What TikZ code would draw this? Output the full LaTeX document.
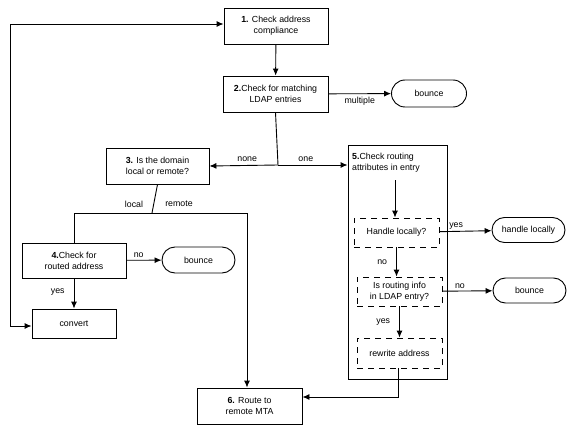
\documentclass[tikz,border=0pt]{standalone}
\usepackage{fontspec}
\setmainfont{Liberation Sans}
\usetikzlibrary{arrows.meta,shapes.misc}
\begin{document}
\begin{tikzpicture}[x=1pt,y=-1pt,
  every node/.style={font=\fontsize{8.8}{11}\selectfont, inner sep=1pt},
  box/.style={draw, line width=0.9pt, align=center, minimum width=#1, minimum height=36pt},
  dbox/.style={draw, line width=0.9pt, dash pattern=on 6pt off 5pt, align=center, minimum width=85pt, minimum height=29pt},
  term/.style={draw, line width=0.9pt, rounded rectangle, minimum width=75pt, minimum height=25pt},
  lbl/.style={font=\fontsize{8.8}{11}\selectfont},
  tip/.tip={Latex[length=7pt,width=6pt]},
  arr/.style={line width=0.9pt, -tip},
  ln/.style={line width=0.9pt}]
\useasboundingbox (0,0) rectangle (573,433);
\node[box=104pt] (b1) at (276,26) {\textbf{1.} Check address\\compliance};
\node[box=105pt] (b2) at (275.5,94) {\textbf{2.}Check for matching\\LDAP entries};
\node[term, minimum width=77pt, minimum height=27pt] (bo1) at (429,93.5) {bounce};
\node[box=103pt] (b3) at (157.5,166) {\textbf{3.} Is the domain\\local or remote?};
\node[draw, line width=0.9pt, minimum width=99pt, minimum height=234pt] (b5) at (397.5,262) {};
\node[anchor=west, align=left] (b5t) at (351,163) {\textbf{5.}Check routing\\attributes in entry};
\node[dbox] (hl) at (396.5,232.5) {Handle locally?};
\node[term] (hlt) at (528.5,230) {handle locally};
\node[dbox] (isr) at (399.5,291.5) {Is routing info\\in LDAP entry?};
\node[term] (bo3) at (529.5,290.5) {bounce};
\node[dbox, minimum height=30pt] (rw) at (399.5,353) {rewrite address};
\node[box=105pt] (b6) at (249.5,406) {\textbf{6.} Route to\\remote MTA};
\node[box=104pt, minimum height=35pt] (b4) at (74,260.5) {\textbf{4.}Check for\\routed address};
\node[term, minimum height=26pt] (bo2) at (198.5,260) {bounce};
\node[box=84pt, minimum height=29pt] (cv) at (74,323.5) {convert};
% connectors
\coordinate (J) at (278,165);
\coordinate (K) at (152,213);
\coordinate (KL) at (74,213);
\coordinate (KR) at (247,213);
\coordinate (T) at (10,24);
\coordinate (B) at (10,326);
\coordinate (R6) at (398,397);
\coordinate (S5) at (395,180);
\draw[ln, tip-tip] (B -| cv.west) -- (B) -- (T) -- (T -| b1.west);
\draw[arr] (b1) -- (b2);
\draw[arr] (b2) -- (bo1) node[lbl, midway, below=2pt] {multiple};
\draw[ln] (b2.south) -- (J);
\draw[arr] (J) -- (b3.east) node[lbl, pos=0.45, above=2pt] {none};
\draw[arr] (J) -- (J -| b5.west) node[lbl, pos=0.4, above=2pt] {one};
\draw[ln] (b3.south) -- (K);
\draw[ln] (KL) -- (KR);
\draw[ln] (KL) -- (b4.north);
\draw[arr] (KR) -- (KR |- b6.north);
\node[lbl] (loc) at (134,204) {local};
\node[lbl] (rem) at (179,204) {remote};
\draw[arr] (b4) -- (bo2) node[lbl, pos=0.35, above=1pt] {no};
\draw[arr] (b4) -- (cv) node[lbl, pos=0.45, left=8pt] {yes};
\draw[arr] (S5) -- (S5 |- hl.north);
\draw[arr] (hl) -- (hlt) node[lbl, pos=0.32, above=1pt] {yes};
\draw[arr] (hl) -- (isr.north -| hl.south) node[lbl, midway, left=8pt] {no};
\draw[arr] (isr) -- (bo3) node[lbl, pos=0.35, above=1pt] {no};
\draw[arr] (isr) -- (rw) node[lbl, midway, left=8pt] {yes};
\draw[arr] (rw.south -| R6) -- (R6) -- (R6 -| b6.east);
\end{tikzpicture}
\end{document}
